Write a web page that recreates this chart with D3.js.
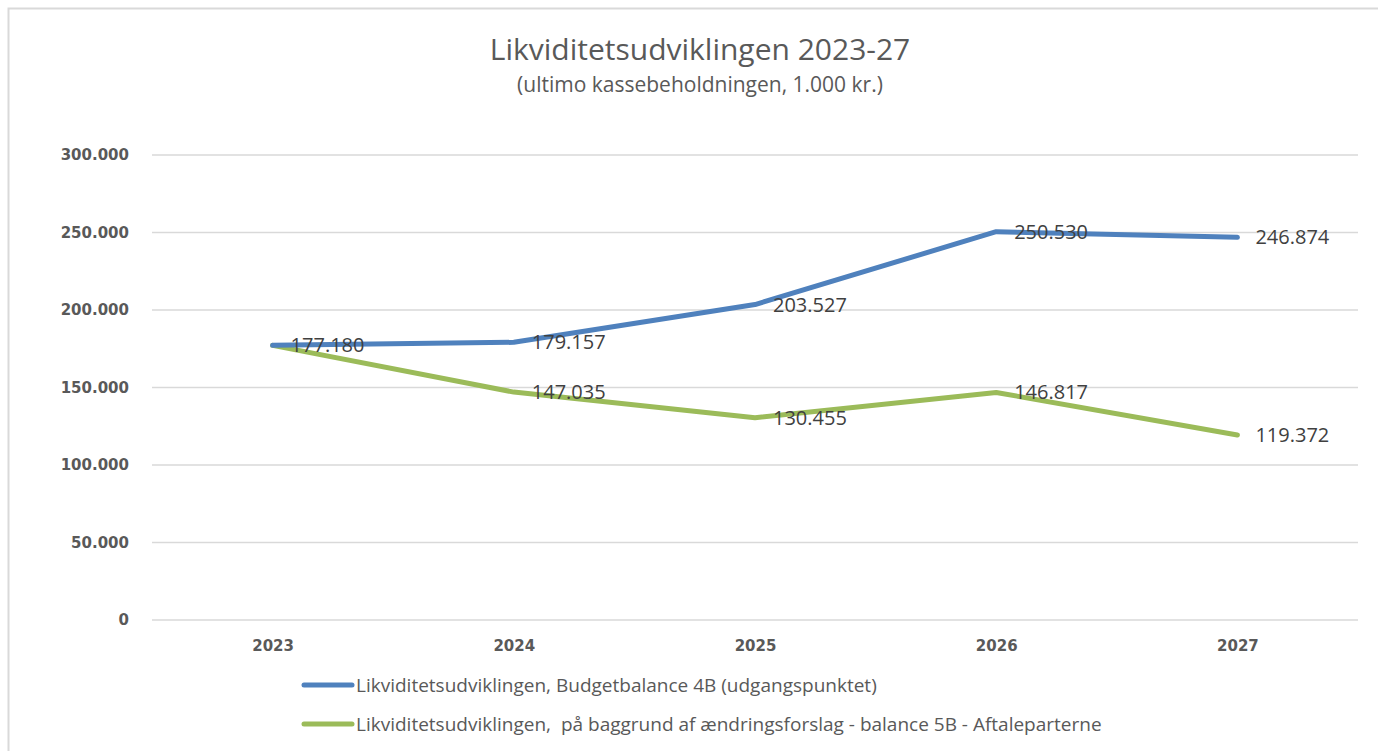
<!DOCTYPE html>
<html>
<head>
<meta charset="utf-8">
<script src="https://cdn.jsdelivr.net/npm/d3@7"></script>
<style>
  body { margin: 0; background: #fff; }
  svg { display: block; font-family: "Open Sans", "Liberation Sans", sans-serif; }
</style>
</head>
<body>
<script>
// data //
const years = ["2023", "2024", "2025", "2026", "2027"];
const budget4B = [177180, 179157, 203527, 250530, 246874];
const forslag5B = [177180, 147035, 130455, 146817, 119372];
const forslagLabels = [null, 147035, 130455, 146817, 119372];
const yTicks = [0, 50000, 100000, 150000, 200000, 250000, 300000];
const seriesNames = [
  "Likviditetsudviklingen, Budgetbalance 4B (udgangspunktet)",
  "Likviditetsudviklingen,  på baggrund af ændringsforslag - balance 5B - Aftaleparterne"
];

const W = 1378, H = 751;
const margin = { top: 155, right: 20, bottom: 131, left: 152 };
const width = W - margin.left - margin.right;
const height = H - margin.top - margin.bottom;

const fmt = v => d3.format(",")(v).replace(/,/g, ".");

const svg = d3.select("body").append("svg")
  .attr("width", W).attr("height", H);

// chart border
svg.append("rect")
  .attr("x", 8.5).attr("y", 8.5)
  .attr("width", W).attr("height", H)
  .attr("fill", "none").attr("stroke", "#d9d9d9").attr("stroke-width", 2);

// titles
svg.append("text")
  .attr("x", 700).attr("y", 60)
  .attr("text-anchor", "middle")
  .attr("font-size", 30).attr("fill", "#595959")
  .text("Likviditetsudviklingen 2023-27");
svg.append("text")
  .attr("x", 700).attr("y", 92)
  .attr("text-anchor", "middle")
  .attr("font-size", 21).attr("fill", "#595959")
  .text("(ultimo kassebeholdningen, 1.000 kr.)");

const g = svg.append("g")
  .attr("transform", "translate(" + margin.left + "," + margin.top + ")");

const x = d3.scalePoint().domain(years).range([0, width]).padding(0.5);
const y = d3.scaleLinear().domain([0, 300000]).range([height, 0]);

// gridlines
g.append("g").selectAll("line")
  .data(yTicks)
  .join("line")
  .attr("x1", 0).attr("x2", width)
  .attr("y1", d => y(d)).attr("y2", d => y(d))
  .attr("stroke", "#d9d9d9").attr("stroke-width", 1.5);

// y axis
const yAxis = g.append("g")
  .attr("transform", "translate(-20,0)")
  .call(d3.axisLeft(y).tickValues(yTicks).tickSize(0).tickFormat(fmt));
yAxis.select(".domain").remove();
yAxis.selectAll("text")
  .attr("font-family", "Verdana, 'DejaVu Sans', sans-serif")
  .attr("font-size", 15).attr("font-weight", "bold").attr("fill", "#595959");

// x axis
const xAxis = g.append("g")
  .attr("transform", "translate(0," + height + ")")
  .call(d3.axisBottom(x).tickSize(0).tickPadding(20));
xAxis.select(".domain").remove();
xAxis.selectAll("text")
  .attr("font-family", "Verdana, 'DejaVu Sans', sans-serif")
  .attr("font-size", 15).attr("font-weight", "bold").attr("fill", "#595959");

const line = d3.line()
  .x((d, i) => x(years[i]))
  .y(d => y(d));

const series = [
  { values: budget4B, labels: budget4B, color: "#4f81bd" },
  { values: forslag5B, labels: forslagLabels, color: "#9bbb59" }
];

series.slice().reverse().forEach(s => {
  g.append("path")
    .datum(s.values)
    .attr("fill", "none")
    .attr("stroke", s.color)
    .attr("stroke-width", 5)
    .attr("stroke-linejoin", "round")
    .attr("stroke-linecap", "round")
    .attr("d", line);
});

// data labels
series.forEach(s => {
  g.append("g").selectAll("text")
    .data(s.labels.map((v, i) => ({ v: v, i: i })).filter(d => d.v !== null))
    .join("text")
    .attr("x", d => x(years[d.i]) + 18)
    .attr("y", d => y(d.v))
    .attr("dy", "0.35em")
    .attr("font-size", 20).attr("fill", "#404040")
    .text(d => fmt(d.v));
});

// legend
const legend = svg.append("g");
seriesNames.forEach((name, i) => {
  const ly = 685 + i * 39;
  legend.append("line")
    .attr("x1", 304).attr("x2", 352)
    .attr("y1", ly).attr("y2", ly)
    .attr("stroke", series[i].color).attr("stroke-width", 5)
    .attr("stroke-linecap", "round");
  legend.append("text")
    .attr("x", 356).attr("y", ly)
    .attr("dy", "0.35em")
    .style("white-space", "pre")
    .attr("font-size", 19).attr("fill", "#595959")
    .text(name);
});
</script>
</body>
</html>
